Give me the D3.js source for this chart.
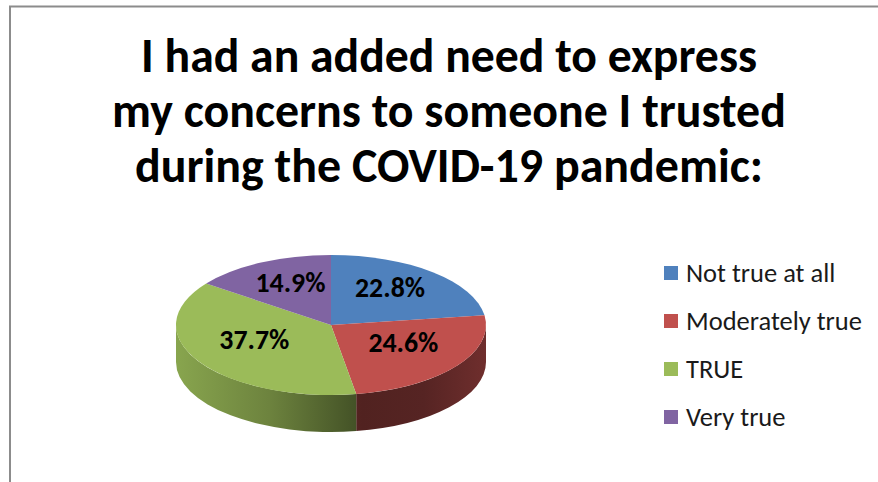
<!DOCTYPE html>
<html>
<head>
<meta charset="utf-8">
<script src="https://cdn.jsdelivr.net/npm/d3@7"></script>
<style>
  body { margin: 0; background: #fff; }
  svg { display: block; }
</style>
</head>
<body>
<div id="chart"></div>
<script>
var svgWidth = 878;
var svgHeight = 482;

// data
var categories = ["Not true at all", "Moderately true", "TRUE", "Very true"];
var values = [22.8, 24.6, 37.7, 14.9];
var titleLines = ["I had an added need to express", "my concerns to someone I trusted", "during the COVID-19 pandemic:"];

var colors = ["#4f81bd", "#c0504d", "#9bbb59", "#8064a2"];
var font = "Carlito, Calibri, Lato, 'Open Sans', sans-serif";

var svg = d3.select("#chart")
  .append("svg")
  .attr("width", svgWidth)
  .attr("height", svgHeight);

// frame (top and left edges only)
svg.append("line")
  .attr("x1", 9).attr("x2", svgWidth).attr("y1", 6.5).attr("y2", 6.5)
  .attr("stroke", "#8c8c8c").attr("stroke-width", 2);
svg.append("line")
  .attr("x1", 10).attr("x2", 10).attr("y1", 6).attr("y2", svgHeight)
  .attr("stroke", "#8c8c8c").attr("stroke-width", 2);

// fit font size so a string gets a target width
function fitText(sel, target) {
  var size = 40;
  sel.attr("font-size", size);
  var w = sel.node().getComputedTextLength();
  sel.attr("font-size", size * target / w);
}

// title
var titleY = [72, 127, 182];
var titleW = [616, 674, 628];
titleLines.forEach(function(t, i) {
  var tx = svg.append("text")
    .attr("x", 449)
    .attr("y", titleY[i])
    .attr("text-anchor", "middle")
    .attr("font-family", font)
    .attr("font-weight", "bold")
    .attr("fill", "#000")
    .text(t);
  fitText(tx, titleW[i]);
});

// pie geometry
var cx = 331, cy = 325, rx = 155, ry = 70, depth = 37;

var pie = d3.pie().sort(null).startAngle(0).endAngle(2 * Math.PI);
var arcs = pie(values);

function px(a) { return cx + rx * Math.sin(a); }
function py(a) { return cy - ry * Math.cos(a); }

var defs = svg.append("defs");

// side gradients: darker toward front, lighter at edges
arcs.forEach(function(d, i) {
  var base = d3.rgb(colors[i]);
  var g = defs.append("linearGradient")
    .attr("id", "side" + i)
    .attr("gradientUnits", "userSpaceOnUse")
    .attr("x1", cx - rx).attr("x2", cx + rx)
    .attr("y1", 0).attr("y2", 0);
  var stops = [[0, 0.88], [0.3, 0.7], [0.6, 0.42], [0.8, 0.45], [1, 0.58]];
  stops.forEach(function(s) {
    g.append("stop")
      .attr("offset", s[0])
      .attr("stop-color", d3.interpolateRgb("#000", base)(s[1]));
  });
});

// sides (front half only)
var sides = svg.append("g");
arcs.forEach(function(d, i) {
  var s0 = Math.max(d.startAngle, Math.PI / 2);
  var s1 = Math.min(d.endAngle, 3 * Math.PI / 2);
  if (s0 >= s1) return;
  var p = "M" + px(s0) + "," + py(s0) +
    " A" + rx + "," + ry + " 0 0 1 " + px(s1) + "," + py(s1) +
    " L" + px(s1) + "," + (py(s1) + depth) +
    " A" + rx + "," + ry + " 0 0 0 " + px(s0) + "," + (py(s0) + depth) + " Z";
  sides.append("path")
    .attr("d", p)
    .attr("fill", "url(#side" + i + ")");
});

// top faces
var tops = svg.append("g");
arcs.forEach(function(d, i) {
  var large = (d.endAngle - d.startAngle) > Math.PI ? 1 : 0;
  var p = "M" + cx + "," + cy +
    " L" + px(d.startAngle) + "," + py(d.startAngle) +
    " A" + rx + "," + ry + " 0 " + large + " 1 " + px(d.endAngle) + "," + py(d.endAngle) + " Z";
  tops.append("path")
    .attr("d", p)
    .attr("fill", colors[i]);
});

// data labels
var labelScale = 0.58;
arcs.forEach(function(d, i) {
  var mid = (d.startAngle + d.endAngle) / 2;
  var lx = cx + labelScale * rx * Math.sin(mid);
  var ly = (cy - 7) - labelScale * ry * Math.cos(mid);
  var t = svg.append("text")
    .attr("x", lx)
    .attr("y", ly)
    .attr("dy", "0.36em")
    .attr("text-anchor", "middle")
    .attr("font-family", font)
    .attr("font-weight", "bold")
    .attr("fill", "#000")
    .text(values[i].toFixed(1) + "%");
  fitText(t, 70);
});

// legend
var legend = svg.append("g").attr("transform", "translate(664, 273)");
categories.forEach(function(c, i) {
  var row = legend.append("g").attr("transform", "translate(0," + (i * 48) + ")");
  row.append("rect")
    .attr("x", 0).attr("y", -7)
    .attr("width", 14).attr("height", 14)
    .attr("fill", colors[i]);
  var t = row.append("text")
    .attr("x", 22)
    .attr("y", 0)
    .attr("dy", "0.35em")
    .attr("font-family", font)
    .attr("fill", "#1a1a1a")
    .text(c);
  if (i === 1) fitText(t, 176);
});
// same size for all legend entries
var legSize = legend.selectAll("text").filter(function(d, i) { return i === 1; }).attr("font-size");
legend.selectAll("text").attr("font-size", legSize);
</script>
</body>
</html>
